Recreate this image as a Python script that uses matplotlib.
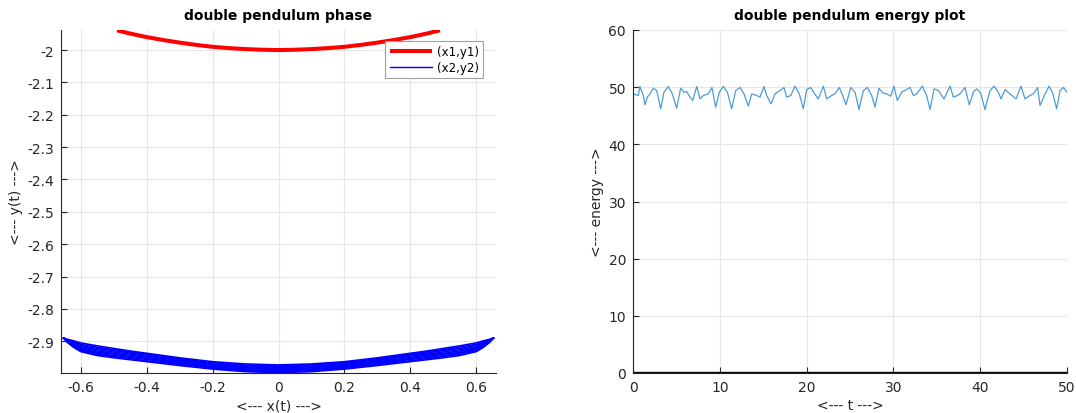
import matplotlib
matplotlib.use("Agg")
import matplotlib.pyplot as plt
from matplotlib.ticker import FuncFormatter

# ---------------- data ----------------
# pendulum 1 bob path
x1 = [-0.49, -0.45, -0.4, -0.35, -0.3, -0.25, -0.2, -0.15, -0.1, -0.05, 0.0,
      0.05, 0.1, 0.15, 0.2, 0.25, 0.3, 0.35, 0.4, 0.45, 0.49]
y1 = [-1.939, -1.949, -1.960, -1.969, -1.977, -1.984, -1.990, -1.994, -1.997, -1.999, -2.000,
      -1.999, -1.997, -1.994, -1.990, -1.984, -1.977, -1.969, -1.960, -1.949, -1.939]

# pendulum 2 bob path (several swings)
x2 = [-0.652, -0.64, -0.62, -0.6, -0.55, -0.5, -0.45, -0.4, -0.3, -0.2, -0.1, 0.0,
      0.1, 0.2, 0.3, 0.4, 0.45, 0.5, 0.55, 0.6, 0.62, 0.64, 0.652]
y2_swing_a = [-2.890, -2.894, -2.899, -2.905, -2.914, -2.922, -2.930, -2.937, -2.951, -2.963, -2.970, -2.973,
              -2.970, -2.963, -2.951, -2.937, -2.930, -2.922, -2.914, -2.905, -2.899, -2.894, -2.890]
y2_swing_b = [-2.890, -2.895, -2.902, -2.909, -2.918, -2.926, -2.933, -2.940, -2.954, -2.966, -2.973, -2.976,
              -2.973, -2.966, -2.954, -2.940, -2.933, -2.926, -2.918, -2.909, -2.902, -2.895, -2.890]
y2_swing_c = [-2.890, -2.897, -2.905, -2.913, -2.922, -2.929, -2.936, -2.943, -2.957, -2.969, -2.976, -2.979,
              -2.976, -2.969, -2.957, -2.943, -2.936, -2.929, -2.922, -2.913, -2.905, -2.897, -2.890]
y2_swing_d = [-2.890, -2.898, -2.909, -2.917, -2.926, -2.933, -2.940, -2.946, -2.960, -2.972, -2.979, -2.982,
              -2.979, -2.972, -2.960, -2.946, -2.940, -2.933, -2.926, -2.917, -2.909, -2.898, -2.890]
y2_swing_e = [-2.890, -2.900, -2.912, -2.920, -2.930, -2.937, -2.943, -2.950, -2.963, -2.975, -2.982, -2.985,
              -2.982, -2.975, -2.963, -2.950, -2.943, -2.937, -2.930, -2.920, -2.912, -2.900, -2.890]
y2_swing_f = [-2.890, -2.901, -2.914, -2.923, -2.934, -2.940, -2.947, -2.953, -2.966, -2.978, -2.985, -2.988,
              -2.985, -2.978, -2.966, -2.953, -2.947, -2.940, -2.934, -2.923, -2.914, -2.901, -2.890]
y2_swing_g = [-2.890, -2.902, -2.916, -2.926, -2.937, -2.944, -2.950, -2.956, -2.969, -2.981, -2.988, -2.991,
              -2.988, -2.981, -2.969, -2.956, -2.950, -2.944, -2.937, -2.926, -2.916, -2.902, -2.890]
y2_swing_h = [-2.890, -2.903, -2.918, -2.929, -2.941, -2.947, -2.954, -2.960, -2.972, -2.983, -2.991, -2.994,
              -2.991, -2.983, -2.972, -2.960, -2.954, -2.947, -2.941, -2.929, -2.918, -2.903, -2.890]
y2_swing_i = [-2.890, -2.904, -2.920, -2.932, -2.944, -2.951, -2.957, -2.963, -2.975, -2.986, -2.994, -2.997,
              -2.994, -2.986, -2.975, -2.963, -2.957, -2.951, -2.944, -2.932, -2.920, -2.904, -2.890]
y2_swings = [y2_swing_a, y2_swing_i, y2_swing_b, y2_swing_h, y2_swing_c,
             y2_swing_g, y2_swing_d, y2_swing_f, y2_swing_e]

# energy vs time
t = [0.00, 0.61, 0.80, 1.19, 1.38, 1.65, 1.96, 2.34, 2.73, 3.19, 3.57, 4.07, 4.53, 5.03,
     5.49, 5.88, 6.18, 6.57, 6.87, 7.34, 7.72, 8.10, 8.68, 9.10, 9.52, 9.95, 10.41, 10.87,
     11.37, 11.83, 12.33, 12.79, 13.29, 13.67, 14.25, 14.63, 15.09, 15.40, 15.90, 16.36,
     16.94, 17.40, 17.70, 18.17, 18.66, 19.16, 19.62, 20.01, 20.47, 20.85, 21.35, 21.93,
     22.31, 22.89, 23.27, 23.77, 24.23, 24.54, 25.08, 25.58, 26.04, 26.54, 27.00, 27.50,
     27.88, 28.34, 28.76, 29.22, 29.69, 30.07, 30.45, 30.95, 31.53, 31.91, 32.30, 32.68,
     33.33, 33.83, 34.22, 34.68, 35.18, 35.83, 36.52, 36.91, 37.37, 37.67, 38.25, 38.75,
     39.21, 39.59, 40.05, 40.55, 41.13, 41.59, 42.09, 42.40, 42.86, 43.43, 44.13, 44.70,
     45.16, 45.74, 46.12, 46.62, 46.89, 47.47, 47.93, 48.35, 48.81, 49.19, 49.58, 50.00]
energy = [48.83, 48.54, 50.11, 48.54, 46.91, 48.25, 48.83, 49.82, 49.41, 46.21, 49.12,
          50.11, 48.83, 46.32, 49.82, 49.12, 49.24, 48.25, 47.66, 50.11, 47.95, 48.54,
          48.83, 49.94, 46.50, 49.12, 50.11, 49.12, 46.21, 49.41, 49.94, 48.83, 46.67,
          48.83, 48.54, 48.25, 50.11, 48.54, 47.08, 48.83, 49.41, 49.94, 48.25, 48.54,
          50.17, 48.83, 46.21, 49.59, 49.94, 49.00, 47.95, 50.17, 47.95, 48.54, 48.83,
          49.94, 48.25, 46.91, 49.94, 49.12, 46.09, 49.41, 49.94, 48.54, 46.50, 49.82,
          49.00, 48.83, 48.42, 50.17, 47.66, 49.12, 49.59, 49.94, 48.54, 48.83, 50.17,
          48.54, 46.09, 49.70, 49.41, 47.95, 50.17, 48.25, 48.54, 48.83, 49.94, 46.91,
          49.12, 49.70, 49.00, 46.09, 49.41, 50.17, 49.12, 47.95, 49.59, 48.83, 47.95,
          50.17, 47.95, 48.54, 48.83, 49.94, 46.79, 48.83, 50.17, 49.00, 46.21, 49.41,
          49.94, 49.12]
t_ref = [0, 50]
e_ref = [0, 0]

x_ticks = [-0.6, -0.4, -0.2, 0, 0.2, 0.4, 0.6]
y_ticks = [-2.9, -2.8, -2.7, -2.6, -2.5, -2.4, -2.3, -2.2, -2.1, -2.0]
t_ticks = [0, 10, 20, 30, 40, 50]
e_ticks = [0, 10, 20, 30, 40, 50, 60]

# ---------------- style ----------------
plt.rcParams['font.family'] = ['DejaVu Sans']
AX_COL = '#262626'
GRID_COL = '#e6e6e6'

fig = plt.figure(figsize=(10.76, 4.14), dpi=100)
W, H = 1076.0, 414.0
ax1 = fig.add_axes([61 / W, (H - 374) / H, (496 - 61) / W, (374 - 31) / H])
ax2 = fig.add_axes([633 / W, (H - 374) / H, (1067 - 633) / W, (374 - 31) / H])

fmt = FuncFormatter(lambda v, p: ('%g' % round(v, 6)) if abs(v) > 1e-9 else '0')

for ax in (ax1, ax2):
    for s in ('top', 'right'):
        ax.spines[s].set_visible(False)
    for s in ('left', 'bottom'):
        ax.spines[s].set_color(AX_COL)
        ax.spines[s].set_linewidth(0.8)
    ax.tick_params(direction='in', length=4, width=0.8, colors=AX_COL,
                   labelsize=10, labelcolor=AX_COL, pad=5)
    ax.grid(True, color=GRID_COL, linewidth=0.8)
    ax.set_axisbelow(True)
    ax.xaxis.set_major_formatter(fmt)
    ax.yaxis.set_major_formatter(fmt)

# left: phase
ax1.plot(x1, y1, color='#ff0000', linewidth=2.9, solid_capstyle='butt', label='(x1,y1)')
first = True
for ys in y2_swings:
    ax1.plot(x2, ys, color='#0000ff', linewidth=1.15,
             label='(x2,y2)' if first else None)
    first = False
ax1.set_xlim(-0.66, 0.66)
ax1.set_ylim(-2.998, -1.938)
ax1.set_xticks(x_ticks)
ax1.set_yticks(y_ticks)
ax1.set_title('double pendulum phase', fontsize=10, fontweight='bold', pad=8)
ax1.set_xlabel('<--- x(t) --->', fontsize=10, color=AX_COL, labelpad=3)
ax1.set_ylabel('<--- y(t) --->', fontsize=10, color=AX_COL, labelpad=3)
leg = ax1.legend(loc='upper right', bbox_to_anchor=(0.97, 0.968), fontsize=8.5,
                 frameon=True, fancybox=False, framealpha=1, edgecolor='#a0a0a0',
                 handlelength=3.6, borderpad=0.35, labelspacing=0.25, handletextpad=0.4,
                 borderaxespad=0)
leg.get_frame().set_linewidth(0.8)
leg.get_lines()[1].set_linewidth(1.0)

# right: energy
ax2.plot(t, energy, color='#4d9bd8', linewidth=0.9)
ax2.plot(t_ref, e_ref, color='black', linewidth=2.4, solid_capstyle='butt')
ax2.set_xlim(0, 50)
ax2.set_ylim(0, 60)
ax2.set_xticks(t_ticks)
ax2.set_yticks(e_ticks)
ax2.set_title('double pendulum energy plot', fontsize=10, fontweight='bold', pad=8)
ax2.set_xlabel('<--- t --->', fontsize=10, color=AX_COL, labelpad=3)
ax2.set_ylabel('<--- energy --->', fontsize=10, color=AX_COL, labelpad=3)

fig.savefig('out.png', dpi=100, facecolor='white')
